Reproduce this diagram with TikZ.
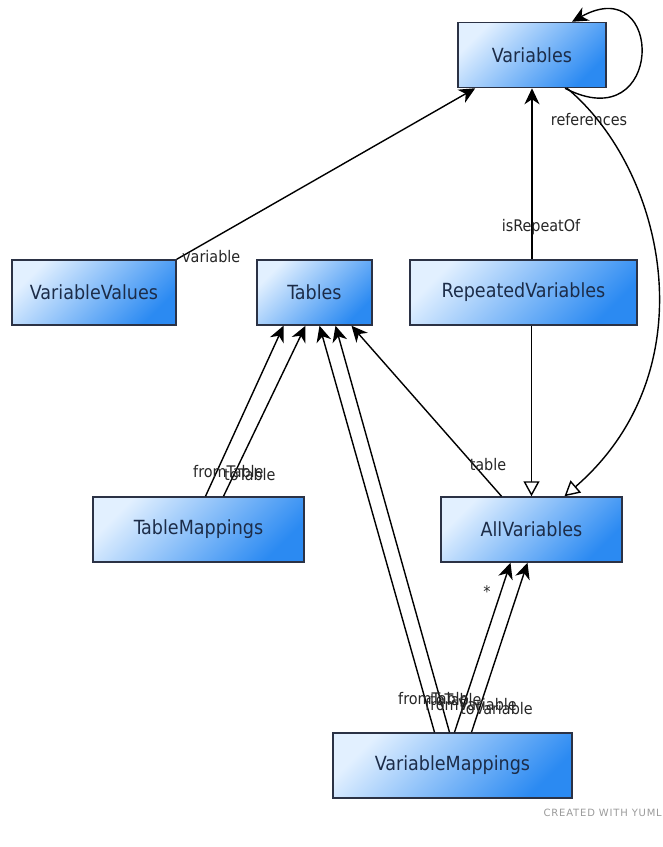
\documentclass[tikz,border=0pt]{standalone}
\usepackage{fontspec}
\setmainfont{DejaVu Sans Condensed}
\newfontfamily\yumlfont[LetterSpace=8]{DejaVu Sans}
\usetikzlibrary{arrows.meta}
\definecolor{boxlight}{HTML}{E2F0FF}
\definecolor{boxdark}{HTML}{2B8AF2}
\definecolor{boxline}{HTML}{2B3245}
\definecolor{boxtext}{HTML}{1C2C48}
\definecolor{markgray}{HTML}{9A9A9A}

\begin{document}
\begin{tikzpicture}[
  x=1pt,y=-1pt,
  box/.style={rectangle,draw=boxline,line width=1.5pt,top color=boxlight,bottom color=boxdark,shading angle=45,minimum height=65pt,inner sep=0pt,font=\fontsize{19.5}{22}\selectfont,text=boxtext},
  arrow/.style={-{Stealth[length=16pt,width=15pt,inset=5pt]},line width=1.4pt},
  inherit/.style={-{Triangle[open,length=15pt,width=16pt,fill=white]},line width=1.4pt},
  lbl/.style={font=\fontsize{16}{18}\selectfont,inner sep=0pt,text=black!85}
]
  \useasboundingbox (0,0) rectangle (663,847);

  \node[box,minimum width=148pt] (var) at (532,55) {Variables};
  \node[box,minimum width=164pt] (vv) at (94,292.5) {VariableValues};
  \node[box,minimum width=115pt] (tab) at (314.5,292.5) {Tables};
  \node[box,minimum width=227pt] (rep) at (523.5,292.5) {RepeatedVariables};
  \node[box,minimum width=211pt] (tm) at (198.5,529.5) {TableMappings};
  \node[box,minimum width=181pt] (allv) at (531.5,529.5) {AllVariables};
  \node[box,minimum width=239pt] (vm) at (452.5,765.5) {VariableMappings};

  \draw[arrow] (vv.north east) -- ([xshift=18pt]var.south west);
  \node[lbl,anchor=base west] (lvar) at (182,262) {variable};

  \draw[arrow] ([xshift=33pt]var.south) .. controls (665,140) and (665,-30) .. ([xshift=40pt]var.north);
  \node[lbl] (lref) at (589,120) {references};
  \draw[inherit] ([xshift=35pt]var.south) .. controls (665,170) and (710,370) .. ([xshift=33pt]allv.north);

  \draw[arrow] (var.south |- rep.north) -- (var.south);
  \node[lbl] (lrep) at (541,227) {isRepeatOf};
  \draw[inherit] (rep.south -| allv.north) -- (allv.north);

  \draw[arrow] ([xshift=-30pt]allv.north) -- ([xshift=37pt]tab.south);
  \node[lbl] (ltab) at (488,465) {table};

  \draw[arrow] ([xshift=7pt]tm.north) -- ([xshift=-31pt]tab.south);
  \draw[arrow] ([xshift=25pt]tm.north) -- ([xshift=-9pt]tab.south);
  \node[lbl,anchor=base west] (ltmf) at (193,477) {fromTable};
  \node[lbl,anchor=base west] (ltmt) at (224,480) {toTable};

  \draw[arrow] ([xshift=-18pt]vm.north) -- ([xshift=5pt]tab.south);
  \draw[arrow] ([xshift=-3pt]vm.north) -- ([xshift=21pt]tab.south);
  \draw[arrow] ([xshift=2pt]vm.north) -- ([xshift=-21pt]allv.south);
  \draw[arrow] ([xshift=19pt]vm.north) -- ([xshift=-4pt]allv.south);
  \node[lbl,anchor=base west] (lvmf) at (398,704) {fromTable};
  \node[lbl,anchor=base west] (lvmt) at (430,705) {toTable};
  \node[lbl,anchor=base west] (lvmfv) at (425,710) {fromVariable};
  \node[lbl,anchor=base west] (lvmtv) at (460,714) {toVariable};
  \node[lbl] (lstar) at (487,592) {*};

  \node[anchor=east,inner sep=0pt,text=markgray,font=\yumlfont\fontsize{10}{12}\selectfont] (made) at (662,813) {CREATED WITH YUML};
\end{tikzpicture}
\end{document}
